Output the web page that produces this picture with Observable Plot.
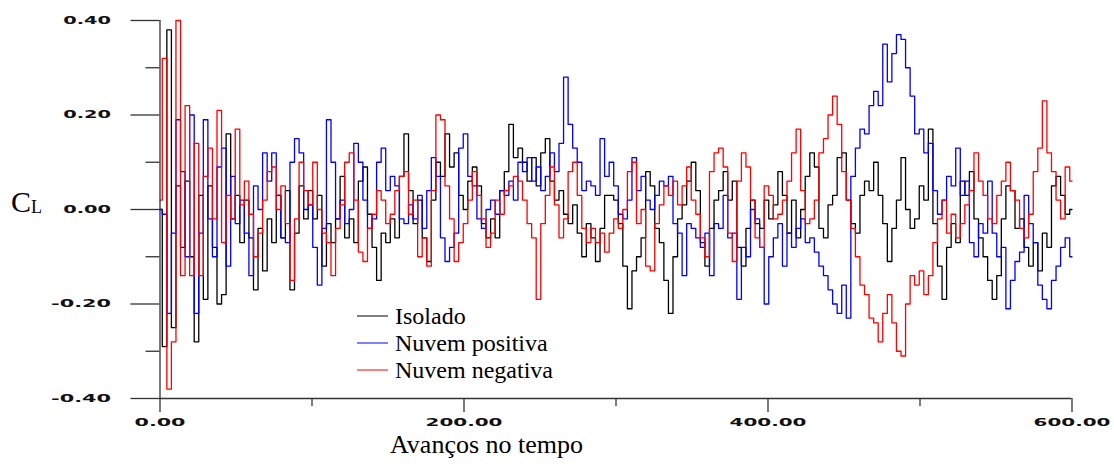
<!DOCTYPE html>
<html><head><meta charset="utf-8">
<script src="https://cdn.jsdelivr.net/npm/d3@7"></script>
<script src="https://cdn.jsdelivr.net/npm/@observablehq/plot@0.6"></script>
<style>
body{margin:0;background:#fff;}
#chart{position:relative;width:1114px;height:464px;}
</style>
</head><body><div id="chart"></div>
<script>
// time steps (every 3 units, 0..600)
const steps = d3.range(0, 601, 3);

const isolado = [
 0.00,-0.29, 0.38,-0.25, 0.05,-0.08, 0.06,-0.10,-0.28, 0.03,
-0.19, 0.05,-0.08,-0.20,-0.18, 0.16,-0.02, 0.03,-0.07, 0.02,
-0.06,-0.17,-0.04,-0.13,-0.02,-0.07, 0.03,-0.06, 0.04,-0.17,
-0.05, 0.05,-0.02, 0.04,-0.02, 0.03,-0.12,-0.03,-0.07,-0.02,
 0.07,-0.06,-0.02,-0.07, 0.06, 0.09,-0.01,-0.08,-0.15,-0.05,
-0.07,-0.02,-0.06, 0.07, 0.16, 0.04,-0.03, 0.02,-0.06,-0.11,
 0.02, 0.10, 0.07, 0.16, 0.09, 0.12, 0.03, 0.00, 0.06, 0.09,
 0.05,-0.03,-0.06,-0.02,-0.06, 0.04, 0.08, 0.18, 0.11, 0.13,
 0.10, 0.06, 0.11, 0.05, 0.12, 0.15, 0.06, 0.02, 0.04,-0.01,
-0.03, 0.01,-0.05,-0.10,-0.03,-0.06,-0.11,-0.04, 0.03, 0.03,
 0.02,-0.03,-0.12,-0.21,-0.13,-0.10,-0.06, 0.08, 0.05,-0.04,
-0.07,-0.15,-0.22,-0.10,-0.02, 0.01, 0.06, 0.10, 0.04,-0.07,
-0.12,-0.04, 0.02, 0.04, 0.08, 0.02, 0.06,-0.08,-0.12,-0.04,
 0.02,-0.03,-0.04, 0.02,-0.02, 0.01, 0.08, 0.03,-0.05, 0.02,
-0.06, 0.00, 0.07, 0.12, 0.09,-0.04,-0.06, 0.01, 0.03, 0.11,
 0.12, 0.02,-0.03,-0.05, 0.03, 0.06, 0.04, 0.10, 0.03,-0.03,
-0.11,-0.04, 0.02, 0.11, 0.00,-0.04,-0.02, 0.05, 0.02, 0.17,
-0.03,-0.12,-0.19,-0.08,-0.03,-0.07, 0.06, 0.03, 0.08,-0.02,
-0.06,-0.10,-0.15,-0.19,-0.14,-0.02, 0.05, 0.04,-0.04,-0.02,
-0.08,-0.12,-0.07,-0.13,-0.05,-0.08, 0.05, 0.07, 0.03,-0.01,
 0.00
];

const nuvemPositiva = [
 0.00,-0.01,-0.22,-0.05, 0.19, 0.08,-0.10, 0.20,-0.22,-0.05,
 0.19,-0.02,-0.10, 0.09, 0.13,-0.12, 0.07,-0.03, 0.02,-0.05,
-0.14, 0.05, 0.00, 0.12, 0.06, 0.12, 0.03,-0.06,-0.07, 0.10,
 0.15, 0.12, 0.00, 0.01,-0.08,-0.16,-0.04, 0.19, 0.10,-0.02,
 0.02,-0.03, 0.00, 0.14, 0.10, 0.02,-0.04,-0.02, 0.10, 0.13,
 0.04, 0.07, 0.05,-0.02,-0.03, 0.01,-0.02, 0.03,-0.04, 0.04,
 0.11, 0.07,-0.06,-0.11,-0.08,-0.05, 0.13, 0.16, 0.07, 0.05,
-0.02,-0.04, 0.00, 0.02,-0.01, 0.04, 0.03, 0.06, 0.02, 0.10,
 0.08, 0.11, 0.06, 0.09, 0.04, 0.07, 0.12, 0.08, 0.14, 0.28,
 0.18, 0.13, 0.10, 0.04, 0.06, 0.05, 0.03, 0.15, 0.07, 0.10,
 0.05,-0.01,-0.02, 0.02, 0.11, 0.04, 0.07, 0.02, 0.00, 0.03,
 0.06, 0.05, 0.07,-0.03,-0.05,-0.14,-0.03,-0.04,-0.06,-0.08,
-0.05,-0.14,-0.03,-0.04, 0.03,-0.06,-0.05,-0.19,-0.08,-0.10,
 0.00,-0.02,-0.08,-0.20,-0.10,-0.06,-0.03,-0.12,-0.05,-0.08,
-0.04,-0.02,-0.07,-0.06,-0.09,-0.12,-0.14,-0.17,-0.20,-0.22,
-0.16,-0.23, 0.07, 0.13, 0.17, 0.16, 0.22, 0.25, 0.22, 0.35,
 0.27, 0.33, 0.37, 0.36, 0.30, 0.24, 0.16, 0.17, 0.12, 0.14,
 0.04,-0.01, 0.02, 0.07, 0.05, 0.13, 0.03, 0.06,-0.07,-0.10,
-0.03,-0.05, 0.06,-0.05,-0.10,-0.08,-0.21,-0.15,-0.11,-0.09,
 0.03,-0.03,-0.07,-0.16,-0.19,-0.21,-0.15,-0.12,-0.08,-0.06,
-0.10
];

const nuvemNegativa = [
 0.02, 0.32,-0.38,-0.28, 0.40,-0.14, 0.22,-0.14, 0.14,-0.14,
 0.07, 0.13,-0.02, 0.21,-0.07, 0.03,-0.02, 0.17, 0.01, 0.06,
-0.01,-0.10,-0.05, 0.02, 0.08, 0.09, 0.00, 0.05,-0.03,-0.15,
-0.02, 0.10, 0.04, 0.01, 0.10, 0.00,-0.05,-0.07,-0.14,-0.04,
 0.01, 0.10, 0.12, 0.02,-0.09,-0.11,-0.04,-0.01, 0.04, 0.02,
-0.03,-0.01, 0.04, 0.07, 0.08,-0.01, 0.02,-0.10,-0.06,-0.12,
 0.04, 0.20, 0.19, 0.05,-0.02,-0.11,-0.07,-0.03, 0.02, 0.08,
 0.03,-0.02,-0.08,-0.05, 0.02,-0.01, 0.04, 0.05, 0.07, 0.06,
 0.02,-0.03,-0.06,-0.19,-0.03, 0.03, 0.09, 0.01,-0.06,-0.02,
 0.08, 0.10, 0.03,-0.04,-0.07,-0.04,-0.07,-0.05,-0.09,-0.05,
-0.02,-0.04, 0.00, 0.08, 0.10,-0.03, 0.00,-0.12,-0.13,-0.03,
 0.01, 0.05, 0.03, 0.06, 0.01, 0.05, 0.09, 0.02,-0.01,-0.06,
-0.10, 0.08, 0.12, 0.13, 0.09,-0.05,-0.11, 0.06, 0.12, 0.09,
 0.02,-0.06,-0.08, 0.05, 0.03,-0.02,-0.01, 0.02, 0.06, 0.12,
 0.17, 0.04,-0.03,-0.02, 0.02, 0.12, 0.15, 0.20, 0.24, 0.18,
 0.08, 0.02,-0.04,-0.10,-0.16,-0.18,-0.23,-0.24,-0.28,-0.22,
-0.18,-0.24,-0.30,-0.31,-0.20,-0.14,-0.16,-0.13,-0.18,-0.14,
-0.07,-0.02, 0.02,-0.05,-0.01,-0.06,-0.03, 0.01, 0.04, 0.12,
 0.06, 0.03,-0.02,-0.03, 0.03, 0.06, 0.10, 0.04, 0.02,-0.04,
-0.06,-0.01, 0.08, 0.13, 0.23, 0.12, 0.08, 0.02,-0.02, 0.09,
 0.06
];

const seriesNames = ["Isolado", "Nuvem positiva", "Nuvem negativa"];
const seriesColors = ["#000000", "#0000ff", "#ff0000"];
const xMajorTicks = [0, 200, 400, 600];
const xMinorTicks = [100, 300, 500];
const yMajorTicks = [-0.4, -0.2, 0, 0.2, 0.4];
const yMinorTicks = [-0.3, -0.1, 0.1, 0.3];
const xTitle = "Avanços no tempo";
const yTitleMain = "C";
const yTitleSub = "L";

const rows = [];
[isolado, nuvemPositiva, nuvemNegativa].forEach((vals, k) =>
  vals.forEach((v, i) => rows.push({t: steps[i], v, s: seriesNames[k]})));

const fmt = d => d.toFixed(2);
const axisColor = "#333";

const plot = Plot.plot({
  width: 1114, height: 464,
  marginTop: 20, marginBottom: 66, marginLeft: 159.5, marginRight: 42.5,
  x: {domain: [0, 600]},
  y: {domain: [-0.4, 0.4]},
  color: {domain: seriesNames, range: seriesColors},
  style: {fontFamily: "DejaVu Sans", fontSize: "10px", fontWeight: "bold", background: "#fff", color: "#111"},
  marks: [
    Plot.line(rows, {x: "t", y: "v", z: "s", stroke: "s", strokeWidth: 1.3, curve: "step"}),
    Plot.ruleX([0], {stroke: axisColor, strokeWidth: 1.3}),
    Plot.ruleY([-0.4], {stroke: axisColor, strokeWidth: 1.3}),
    Plot.axisX({ticks: xMajorTicks, tickSize: 14, tickPadding: 6, tickFormat: fmt, label: null, stroke: axisColor, strokeWidth: 1.3}),
    Plot.axisX({ticks: xMinorTicks, tickSize: 8, tickFormat: () => "", label: null, stroke: axisColor, strokeWidth: 1.3}),
    Plot.axisY({ticks: yMajorTicks, tickSize: 29, tickPadding: 20, tickFormat: fmt, label: null, stroke: axisColor, strokeWidth: 1.3}),
    Plot.axisY({ticks: yMinorTicks, tickSize: 14, tickFormat: () => "", label: null, stroke: axisColor, strokeWidth: 1.3})
  ]
});

const svg = d3.select(plot);
svg.selectAll("g[aria-label='y-axis tick label'] text").each(function() {
  const s = this.textContent; if (!s) return;
  d3.select(this).attr("textLength", s.length * 12.2 - 1).attr("lengthAdjust", "spacingAndGlyphs");
});
svg.selectAll("g[aria-label='x-axis tick label'] text").each(function() {
  const s = this.textContent; if (!s) return;
  d3.select(this).attr("textLength", s.length * 13 - 1).attr("lengthAdjust", "spacingAndGlyphs").attr("font-size", "11px");
});

const serif = "'Liberation Serif','Times New Roman',serif";
function addText(x, y, size, str) {
  return svg.append("text").attr("x", x).attr("y", y)
    .attr("text-anchor", "start").attr("font-family", serif).attr("font-weight", "normal")
    .attr("font-size", size).attr("fill", "#000").text(str);
}
// y title
const yt = addText(11, 212, 30, yTitleMain);
yt.append("tspan").attr("font-size", 18).attr("dy", 1).text(yTitleSub);
// x title
addText(390, 453, 26, xTitle);
// legend
seriesNames.forEach((name, i) => {
  const y = 316 + i * 27;
  svg.append("line").attr("x1", 357).attr("x2", 388).attr("y1", y).attr("y2", y)
    .attr("stroke", seriesColors[i]).attr("stroke-width", 1);
  addText(395, y + 7.5, 24, name);
});

document.getElementById("chart").appendChild(plot);
</script>
</body></html>
